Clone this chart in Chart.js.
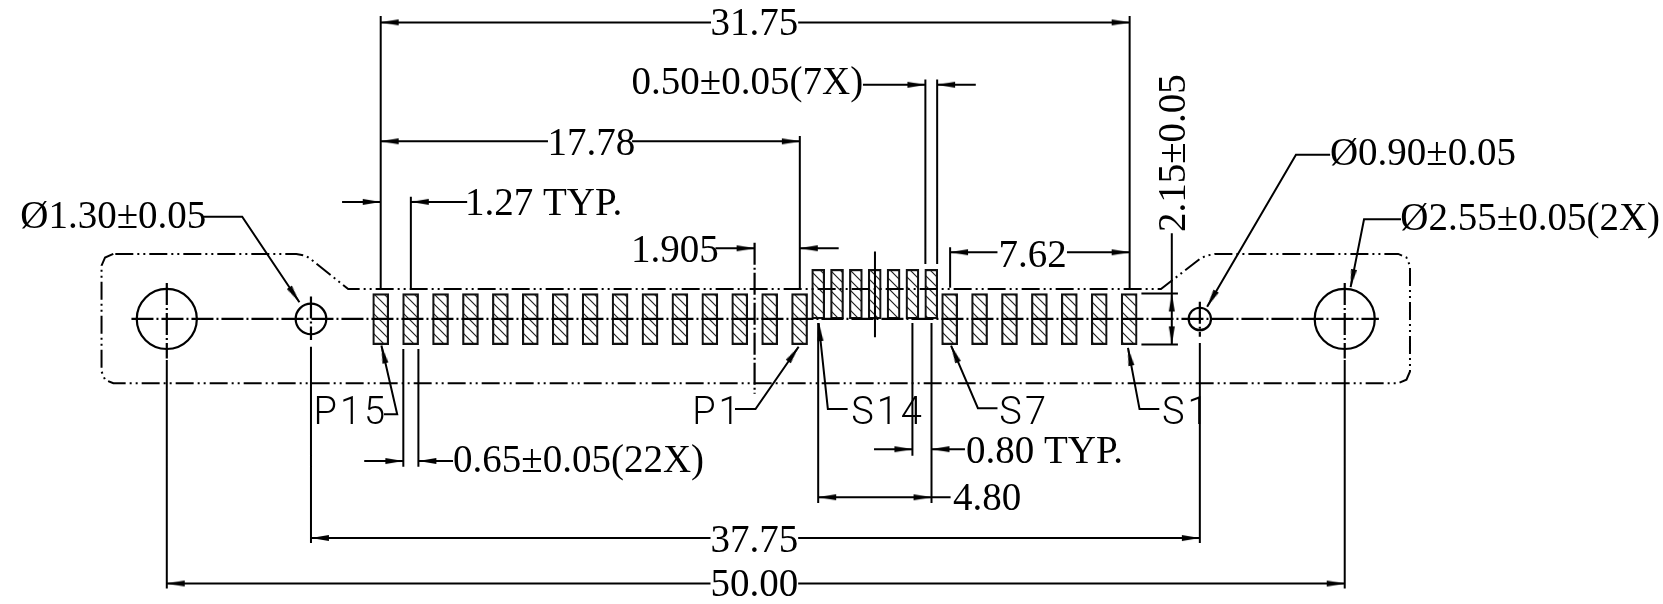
<!DOCTYPE html>
<html>
<head>
<meta charset="utf-8">
<title>Connector footprint</title>
<script src="https://cdn.jsdelivr.net/npm/chart.js@4"></script>
<style>
  html, body { margin: 0; padding: 0; background: #fff; }
  canvas { display: block; }
</style>
</head>
<body>
<canvas id="footprint" width="1663" height="604"></canvas>
<script>
// all values in mm, origin on the centre of the part
const padsPX = [-15.92, -14.65, -13.38, -12.11, -10.84, -9.57, -8.30, -7.03, -5.76, -4.49, -3.22, -1.95, -0.68, 0.59, 1.86];
const padsSLowX = [8.23, 9.50, 10.77, 12.04, 13.31, 14.58, 15.85];
const padsSHighX = [2.65, 3.45, 4.25, 5.05, 5.85, 6.65, 7.45];
const padRange = [-1.09, 1.08];
const highPadRange = [0, 2.11];

const holeX = [-25, -18.88, 18.85, 25];
const holeDiameter = [2.55, 1.30, 0.95, 2.55];

const outlineX = [-27.27, -27.62, -27.77, -27.77, -27.62, -27.27, 27.27, 27.62, 27.77, 27.77, 27.62, 27.27, 19.5, 19.1, 18.85, 17.2, -17.3, -18.9, -19.1, -19.5, -27.27];
const outlineY = [2.76, 2.61, 2.26, -2.23, -2.58, -2.73, -2.73, -2.58, -2.23, 2.26, 2.61, 2.76, 2.76, 2.68, 2.55, 1.27, 1.27, 2.55, 2.68, 2.76, 2.76];

const centreX = [-26.5, 26.45, null, -25, -25, null, 25, 25, null, -18.88, -18.88, null, 18.85, 18.85, null, -0.05, -0.05];
const centreY = [0, 0, null, 1.53, -1.68, null, 1.53, -1.68, null, 0.95, -0.89, null, 0.73, -0.75, null, 3.24, -3.18];

const extensionX = [-15.92, -15.92, null, 15.87, 15.87, null, -14.64, -14.64, null, 1.87, 1.87, null, 7.20, 7.20, null, 7.70, 7.70, null, 8.25, 8.25, null,
  -25, -25, null, 25, 25, null, -18.88, -18.88, null, 18.85, 18.85, null, -14.96, -14.96, null, -14.32, -14.32, null,
  6.65, 6.65, null, 7.46, 7.46, null, 2.65, 2.65, null, 5.06, 5.06, null, 16.37, 17.92, null, 16.37, 17.92];
const extensionY = [12.86, 1.30, null, 12.86, 1.30, null, 5.19, 1.30, null, 7.77, 1.27, null, 10.17, 2.33, null, 10.17, 2.33, null, 3.04, 1.32, null,
  -1.74, -11.44, null, -1.74, -11.44, null, -1.18, -9.51, null, -1.02, -9.51, null, -1.27, -6.27, null, -1.27, -6.27, null,
  -0.17, -5.81, null, -0.17, -7.81, null, -0.17, -7.81, null, 2.86, -0.78, null, 1.08, 1.08, null, -1.08, -1.08];

const dimensionX = [-15.92, -1.90, null, 1.80, 15.87, null, 4.55, 7.20, null, 7.70, 9.34, null, -15.92, -8.82, null, -5.25, 1.87, null,
  -17.56, -15.92, null, -14.64, -12.25, null, -1.71, -0.05, null, 1.87, 3.52, null, 8.25, 10.26, null, 13.21, 15.87, null,
  -16.62, -14.96, null, -14.32, -12.85, null, 5.02, 6.65, null, 7.46, 8.88, null, 2.65, 8.27, null,
  -18.88, -1.92, null, 1.80, 18.85, null, -25, -1.92, null, 1.80, 25, null, 17.66, 17.66];
const dimensionY = [12.59, 12.59, null, 12.59, 12.59, null, 9.94, 9.94, null, 9.94, 9.94, null, 7.54, 7.54, null, 7.54, 7.54, null,
  4.97, 4.97, null, 4.97, 4.97, null, 3.00, 3.00, null, 3.00, 3.00, null, 2.83, 2.83, null, 2.83, 2.83, null,
  -6.03, -6.03, null, -6.03, -6.03, null, -5.53, -5.53, null, -5.53, -5.53, null, -7.57, -7.57, null,
  -9.30, -9.30, null, -9.30, -9.30, null, -11.23, -11.23, null, -11.23, -11.23, null, 3.64, -1.08];

const leaderX = [-23.43, -21.80, -19.37, null, 24.38, 22.93, 19.16, null, 27.39, 25.82, 25.25, null, -15.78, -15.22, -15.89, null,
  -0.88, -0.01, 1.82, null, 3.90, 3.06, 2.67, null, 10.26, 9.43, 8.29, null, 17.13, 16.29, 15.80];
const leaderY = [4.34, 4.34, 0.71, null, 6.97, 6.97, 0.52, null, 4.23, 4.23, 1.35, null, -4.05, -4.05, -1.13, null,
  -3.82, -3.82, -1.18, null, -3.82, -3.82, -0.18, null, -3.79, -3.79, -1.13, null, -3.82, -3.82, -1.23];

const arrowX = [-15.92, 15.87, 7.20, 7.70, -15.92, 1.87, -15.92, -14.64, -0.05, 1.87, 8.25, 15.87, -14.96, -14.32, 6.65, 7.46, 2.65, 7.46, -18.88, 18.85, -25, 25, 17.66, 17.66,
  -19.37, 19.16, 25.25, -15.89, 1.82, 2.67, 8.29, 15.80];
const arrowY = [12.59, 12.59, 9.94, 9.94, 7.54, 7.54, 4.97, 4.97, 3.00, 3.00, 2.83, 2.83, -6.03, -6.03, -5.53, -5.53, -7.57, -7.57, -9.30, -9.30, -11.23, -11.23, 1.08, -1.08,
  0.71, 0.52, 1.35, -1.13, -1.18, -0.18, -1.13, -1.23];
const arrowAngle = [180, 0, 0, 180, 180, 0, 0, 180, 0, 180, 180, 0, 0, 180, 0, 180, 180, 0, 180, 0, 180, 0, -90, 90,
  56, 120, 101, -103, -55, -96, -113, -101];

const dimensionText = ['31.75', '0.50±0.05(7X)', '17.78', '1.27 TYP.', 'Ø1.30±0.05', '1.905', '7.62', 'Ø0.90±0.05', 'Ø2.55±0.05(2X)', '0.65±0.05(22X)', '0.80 TYP.', '4.80', '37.75', '50.00'];
const dimensionTextX = [-1.92, -5.27, -8.84, -12.34, -31.22, -5.30, 10.30, 24.37, 27.36, -12.85, 8.92, 8.37, -1.92, -1.92];
const dimensionTextY = [12.05, 9.53, 6.96, 4.41, 3.85, 2.43, 2.22, 6.52, 3.78, -6.48, -6.10, -8.11, -9.88, -11.74];

const pinText = ['P15', 'P1', 'S14', 'S7', 'S1'];
const pinTextX = [-18.77, -2.70, 4.05, 10.34, 17.24];
const pinTextY = [-4.47, -4.47, -4.47, -4.47, -4.47];

const heightText = '2.15±0.05';
const heightTextX = 18.20;
const heightTextY = 3.69;

const toPoints = (xs, ys) => xs.map((x, i) => ({ x: x, y: ys[i] }));
const toBars = (xs, range) => xs.map(x => ({ x: x, y: range }));

// hatching of the pads
function makeHatch() {
    const tile = document.createElement('canvas');
    tile.width = 10;
    tile.height = 10;
    const c = tile.getContext('2d');
    c.fillStyle = '#fff';
    c.fillRect(0, 0, 10, 10);
    c.strokeStyle = '#222';
    c.lineWidth = 1.2;
    c.beginPath();
    c.moveTo(-2, -2);
    c.lineTo(12, 12);
    c.moveTo(-2, 8);
    c.lineTo(2, 12);
    c.moveTo(8, -2);
    c.lineTo(12, 2);
    c.stroke();
    return c.createPattern(tile, 'repeat');
}

// arrow head pointing right, tip in the middle of the image
function makeArrowHead() {
    const img = document.createElement('canvas');
    img.width = 40;
    img.height = 8;
    const c = img.getContext('2d');
    c.fillStyle = '#000';
    c.beginPath();
    c.moveTo(20, 4);
    c.lineTo(2, 1);
    c.lineTo(2, 7);
    c.closePath();
    c.fill();
    return img;
}

const hatch = makeHatch();
const arrowHead = makeArrowHead();

const lineSet = (xs, ys, width, dash) => ({
    type: 'scatter',
    showLine: true,
    data: toPoints(xs, ys),
    borderColor: '#000',
    borderWidth: width,
    borderDash: dash || [],
    pointRadius: 0,
    tension: 0,
    spanGaps: false
});

const padSet = (xs, range, thickness) => ({
    type: 'bar',
    data: toBars(xs, range),
    grouped: false,
    barThickness: thickness,
    backgroundColor: hatch,
    borderColor: '#111',
    borderWidth: 2.2,
    borderSkipped: false
});

const drawingText = {
    id: 'drawingText',
    afterDatasetsDraw(chart) {
        const { ctx, scales } = chart;
        ctx.save();
        ctx.fillStyle = '#000';
        ctx.textAlign = 'left';
        ctx.textBaseline = 'alphabetic';
        ctx.font = '39px "Liberation Serif"';
        dimensionText.forEach((t, i) => {
            ctx.fillText(t, scales.x.getPixelForValue(dimensionTextX[i]), scales.y.getPixelForValue(dimensionTextY[i]));
        });
        ctx.save();
        ctx.translate(scales.x.getPixelForValue(heightTextX), scales.y.getPixelForValue(heightTextY));
        ctx.rotate(-Math.PI / 2);
        ctx.fillText(heightText, 0, 0);
        ctx.restore();
        ctx.font = '300 38px Roboto';
        ctx.letterSpacing = '3px';
        pinText.forEach((t, i) => {
            ctx.fillText(t, scales.x.getPixelForValue(pinTextX[i]), scales.y.getPixelForValue(pinTextY[i]));
        });
        ctx.restore();
    }
};

new Chart(document.getElementById('footprint'), {
    type: 'scatter',
    data: {
        datasets: [
            {
                type: 'scatter',
                data: toPoints(arrowX, arrowY),
                pointStyle: arrowHead,
                pointRotation: arrowAngle,
                pointRadius: 10
            },
            {
                type: 'scatter',
                data: holeX.map(x => ({ x: x, y: 0 })),
                pointStyle: 'circle',
                backgroundColor: 'transparent',
                pointBorderColor: '#000',
                pointBorderWidth: 2.2,
                pointRadius: ctx => {
                    const sc = ctx.chart.scales.x;
                    return holeDiameter[ctx.dataIndex] / 2 * sc.width / (sc.max - sc.min);
                }
            },
            lineSet(centreX, centreY, 2.2, [22, 3, 2, 3]),
            lineSet(leaderX, leaderY, 2),
            lineSet(dimensionX, dimensionY, 2),
            lineSet(extensionX, extensionY, 2),
            lineSet(outlineX, outlineY, 2, [18, 4, 2, 4, 2, 4]),
            padSet(padsPX, padRange, 16),
            padSet(padsSLowX, padRange, 16),
            padSet(padsSHighX, highPadRange, 13)
        ]
    },
    options: {
        responsive: false,
        animation: false,
        devicePixelRatio: 1,
        layout: { padding: 0, autoPadding: false },
        plugins: { legend: { display: false }, tooltip: { enabled: false } },
        scales: {
            x: { type: 'linear', display: false, offset: false, min: -32.08, max: 38.51 },
            y: { type: 'linear', display: false, min: -12.10, max: 13.54 }
        }
    },
    plugins: [drawingText]
});
</script>
</body>
</html>
